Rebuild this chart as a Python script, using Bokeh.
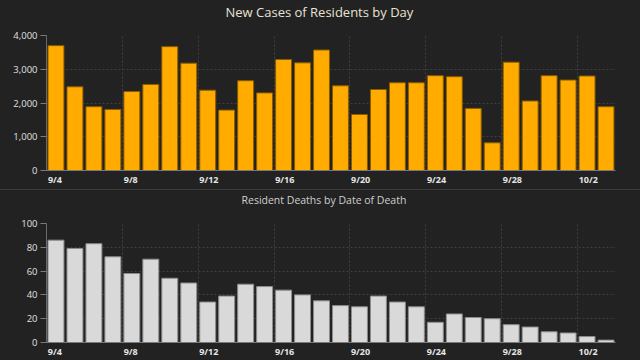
from bokeh.plotting import figure
from bokeh.models import FixedTicker, NumeralTickFormatter, Div, Range1d, Title
from bokeh.layouts import column
from bokeh.embed import file_html
from bokeh.resources import INLINE

# ---- data ----
dates = ["9/4", "9/5", "9/6", "9/7", "9/8", "9/9", "9/10", "9/11", "9/12", "9/13",
         "9/14", "9/15", "9/16", "9/17", "9/18", "9/19", "9/20", "9/21", "9/22", "9/23",
         "9/24", "9/25", "9/26", "9/27", "9/28", "9/29", "9/30", "10/1", "10/2", "10/3"]
new_cases = [3700, 2480, 1890, 1810, 2340, 2550, 3670, 3180, 2380, 1790,
             2660, 2300, 3290, 3190, 3570, 2510, 1660, 2400, 2600, 2600,
             2810, 2780, 1840, 820, 3210, 2060, 2810, 2680, 2800, 1890]
deaths = [86, 79, 83, 72, 58, 70, 54, 50, 34, 39,
          49, 47, 44, 40, 35, 31, 30, 39, 34, 30,
          17, 24, 21, 20, 15, 13, 9, 8, 5, 2]
x_tick_labels = ["9/4", "9/8", "9/12", "9/16", "9/20", "9/24", "9/28", "10/2"]
cases_yticks = [0, 1000, 2000, 3000, 4000]
deaths_yticks = [0, 20, 40, 60, 80, 100]

BG = "#222222"
FONT = "Open Sans"
W = 640


def make_chart(title, values, yticks, fill, line, height, left, right, top, bottom,
               title_size, title_color, title_left, gap, yfmt=None):
    n = len(dates)
    p = figure(width=W, height=height, output_backend="svg", toolbar_location=None,
               x_range=Range1d(0, n), y_range=Range1d(yticks[0], yticks[-1]),
               min_border_left=left, min_border_right=right,
               min_border_top=top, min_border_bottom=bottom,
               background_fill_color=BG, border_fill_color=BG, outline_line_color=None,
               title=title)
    p.title.align = "left"
    p.title.offset = title_left - left
    p.title.vertical_align = "middle"
    p.title.standoff = 0
    p.title.text_font = FONT
    p.title.text_font_style = "normal"
    p.title.text_font_size = f"{title_size}px"
    p.title.text_color = title_color
    # invisible spacer between the title and the plot area
    p.add_layout(Title(text=" ", text_font_size="1px", standoff=gap), "above")

    xs = [i + 0.5 for i in range(n)]
    p.vbar(x=xs, top=values, width=0.84, fill_color=fill, line_color=line, line_width=1)

    frame_w = W - left - right
    px_per_day = frame_w / n
    day_ticks = [dates.index(t) for t in x_tick_labels]
    shifted = []
    overrides = {}
    for d, lab in zip(day_ticks, x_tick_labels):
        off = (1.5 + len(lab) * 2.3) / px_per_day
        pos = round(d + off, 4)
        shifted.append(pos)
        overrides[pos] = lab

    xa = p.xaxis[0]
    xa.ticker = FixedTicker(ticks=shifted)
    xa.major_label_overrides = overrides
    xa.major_tick_line_color = None
    xa.minor_tick_line_color = None
    xa.major_tick_out = 0
    xa.major_tick_in = 0
    xa.major_label_standoff = 2
    xa.axis_line_color = "#7a7a7a"
    xa.major_label_text_font = FONT
    xa.major_label_text_font_style = "bold"
    xa.major_label_text_font_size = "9px"
    xa.major_label_text_color = "#e6e6e6"

    ya = p.yaxis[0]
    ya.ticker = FixedTicker(ticks=yticks)
    if yfmt:
        ya.formatter = NumeralTickFormatter(format=yfmt)
    ya.axis_line_color = "#6a6a6a"
    ya.major_tick_line_color = "#7a7a7a"
    ya.major_tick_out = 6
    ya.major_tick_in = 0
    ya.minor_tick_line_color = None
    ya.major_label_standoff = 3
    ya.major_label_text_font = FONT
    ya.major_label_text_font_size = "9.5px"
    ya.major_label_text_color = "#e0e0e0"

    p.xgrid.ticker = FixedTicker(ticks=day_ticks[1:])
    p.xgrid.grid_line_color = "#3e3e3e"
    p.xgrid.grid_line_dash = "2 2"
    p.ygrid.ticker = FixedTicker(ticks=yticks[1:])
    p.ygrid.grid_line_color = "#3e3e3e"
    p.ygrid.grid_line_dash = "2 2"
    return p


top = make_chart("New Cases of Residents by Day", new_cases, cases_yticks,
                 "#ffab00", "#8a5c00", height=189, left=46, right=24, top=35, bottom=19,
                 title_size=13, title_color="#e9e3d3", title_left=225, gap=11, yfmt="0,0")
sep = Div(width=W, height=1, margin=(0, 0, 0, 0), styles={"background-color": "#3c3c3c"})
bottom = make_chart("Resident Deaths by Date of Death", deaths, deaths_yticks,
                    "#d9d9d9", "#8c8c8c", height=170, left=39, right=25, top=33, bottom=16,
                    title_size=10.5, title_color="#cfcfcf", title_left=234, gap=13)

layout = column(top, sep, bottom, spacing=0, styles={"background-color": BG})

open("out.html", "w").write(file_html(layout, INLINE))
